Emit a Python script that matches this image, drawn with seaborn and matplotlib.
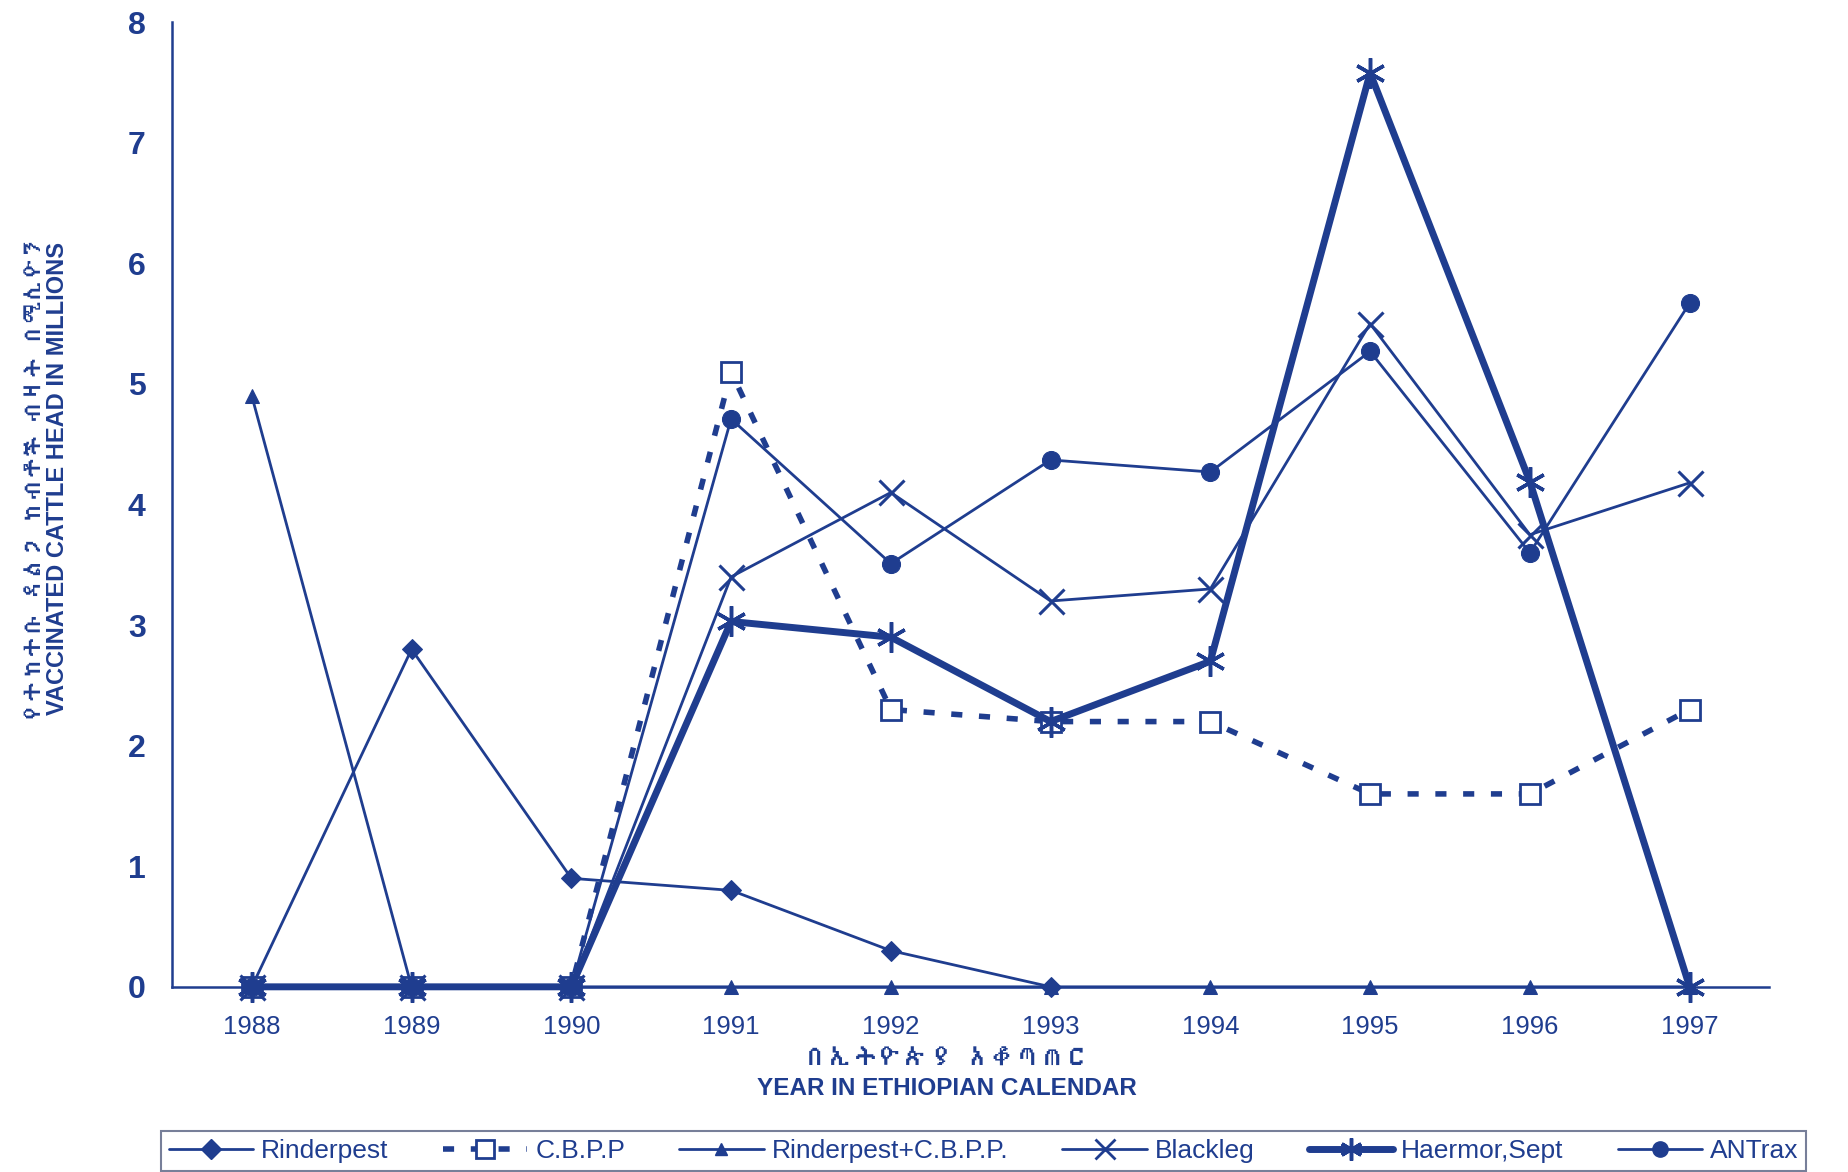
import matplotlib
matplotlib.use("Agg")
import matplotlib.pyplot as plt
import seaborn as sns
import numpy as np
from matplotlib import font_manager
from matplotlib.lines import Line2D

years = ["1988", "1989", "1990", "1991", "1992", "1993", "1994", "1995", "1996", "1997"]
rinderpest = [0, 2.8, 0.9, 0.8, 0.3, 0, np.nan, np.nan, np.nan, np.nan]
cbpp = [0, 0, 0, 5.1, 2.3, 2.2, 2.2, 1.6, 1.6, 2.3]
rinder_cbpp = [4.9, 0, 0, 0, 0, 0, 0, 0, 0, 0]
blackleg = [0, 0, 0, 3.4, 4.1, 3.2, 3.3, 5.5, 3.75, 4.18]
haermor = [0, 0, 0, 3.03, 2.9, 2.2, 2.7, 7.58, 4.19, 0]
antrax = [0, 0, 0, 4.71, 3.51, 4.37, 4.27, 5.27, 3.6, 5.67]
labels = ["Rinderpest", "C.B.P.P", "Rinderpest+C.B.P.P.", "Blackleg", "Haermor,Sept", "ANTrax"]

ylabel_am = "የተከተቡ ዳልጋ ከብቶች ብዛት በሚሊዮን"
ylabel_en = "VACCINATED CATTLE HEAD IN MILLIONS"
xlabel_am = "በኢትዮጵያ አቆጣጠር"
xlabel_en = "YEAR IN ETHIOPIAN CALENDAR"

sns.set_theme(style="white")
plt.rcParams['font.family'] = ['Liberation Sans', 'DejaVu Sans']

def find_font(ch):
    try:
        from fontTools.ttLib import TTFont
    except Exception:
        return None
    for f in font_manager.fontManager.ttflist:
        try:
            tt = TTFont(f.fname, fontNumber=0, lazy=True)
            cmap = tt.getBestCmap()
            if cmap and ord(ch) in cmap:
                return f.name
        except Exception:
            pass
    return None

eth = find_font("የ")
eth_family = [eth, 'DejaVu Sans'] if eth else ['DejaVu Sans']

C = "#1f3d8f"
fig = plt.figure(figsize=(18.49, 11.72), dpi=100)
ax = fig.add_axes([0.093, 0.158, 0.864, 0.823])

x = np.arange(len(years))
kw = dict(ax=ax, color=C, clip_on=False)
sns.lineplot(x=x, y=rinderpest, lw=2, marker="D", ms=10, mec=C, mfc=C, **kw)
sns.lineplot(x=x, y=cbpp, lw=4, ls=(0, (2, 3)), marker="s", ms=15, mec=C, mfc="white", mew=2, **kw)
sns.lineplot(x=x, y=rinder_cbpp, lw=2, marker="^", ms=10, mec=C, mfc=C, **kw)
sns.lineplot(x=x, y=blackleg, lw=2, marker="x", ms=18, mec=C, mew=2.2, **kw)
sns.lineplot(x=x, y=haermor, lw=5, marker=(6, 2, 0), ms=22, mec=C, mew=2.5, **kw)
sns.lineplot(x=x, y=antrax, lw=2, marker="o", ms=13, mec=C, mfc=C, **kw)

ax.set_xlim(-0.5, 9.5)
ax.set_ylim(0, 8)
ax.set_yticks(range(0, 9))
ax.set_yticklabels([str(v) for v in range(0, 9)], fontsize=23, fontweight="bold", color=C)
ax.set_xticks(x)
ax.set_xticklabels(years, fontsize=18.5, color=C)
ax.set_xticks(np.arange(-0.5, 10, 1), minor=True)
ax.tick_params(axis="x", which="major", length=0, pad=20)
ax.tick_params(axis="x", which="minor", length=8, width=1.5, color=C, direction="out")
ax.tick_params(axis="y", length=9, width=1.5, color=C, direction="out", pad=10)
for s in ["top", "right"]:
    ax.spines[s].set_visible(False)
for s in ["left", "bottom"]:
    ax.spines[s].set_color(C)
    ax.spines[s].set_linewidth(1.8)
ax.set_xlabel("")
ax.set_ylabel("")
ax.grid(False)

fig.text(0.014, 0.592, ylabel_am, rotation=90, ha="left", va="center", fontsize=16,
         fontweight="bold", color=C, family=eth_family)
fig.text(0.031, 0.592, ylabel_en, rotation=90, ha="center", va="center", fontsize=17,
         fontweight="bold", color=C)
fig.text(0.512, 0.097, xlabel_am, ha="center", va="center", fontsize=18,
         fontweight="bold", color=C, family=eth_family)
fig.text(0.512, 0.071, xlabel_en, ha="center", va="center", fontsize=17.5,
         fontweight="bold", color=C)

handles = [
    Line2D([], [], color=C, lw=2, marker="D", ms=10, mfc=C),
    Line2D([], [], color=C, lw=4, ls=(0, (2, 3)), marker="s", ms=13, mfc="white", mew=2),
    Line2D([], [], color=C, lw=2, marker="^", ms=8, mfc=C),
    Line2D([], [], color=C, lw=2, marker="x", ms=14, mew=2),
    Line2D([], [], color=C, lw=5, marker=(6, 2, 0), ms=16, mew=2.5),
    Line2D([], [], color=C, lw=2, marker="o", ms=11, mfc=C),
]
leg = fig.legend(handles, labels, loc="lower center", bbox_to_anchor=(0.532, 0.0), ncol=6,
                 fontsize=19, frameon=True, fancybox=False, handlelength=3.2,
                 columnspacing=2.05, handletextpad=0.3, borderpad=0.3, borderaxespad=0.05)
leg.get_frame().set_edgecolor("#555f80")
leg.get_frame().set_linewidth(1.5)
for t in leg.get_texts():
    t.set_color(C)

fig.savefig("out.png", dpi=100, facecolor="white")
